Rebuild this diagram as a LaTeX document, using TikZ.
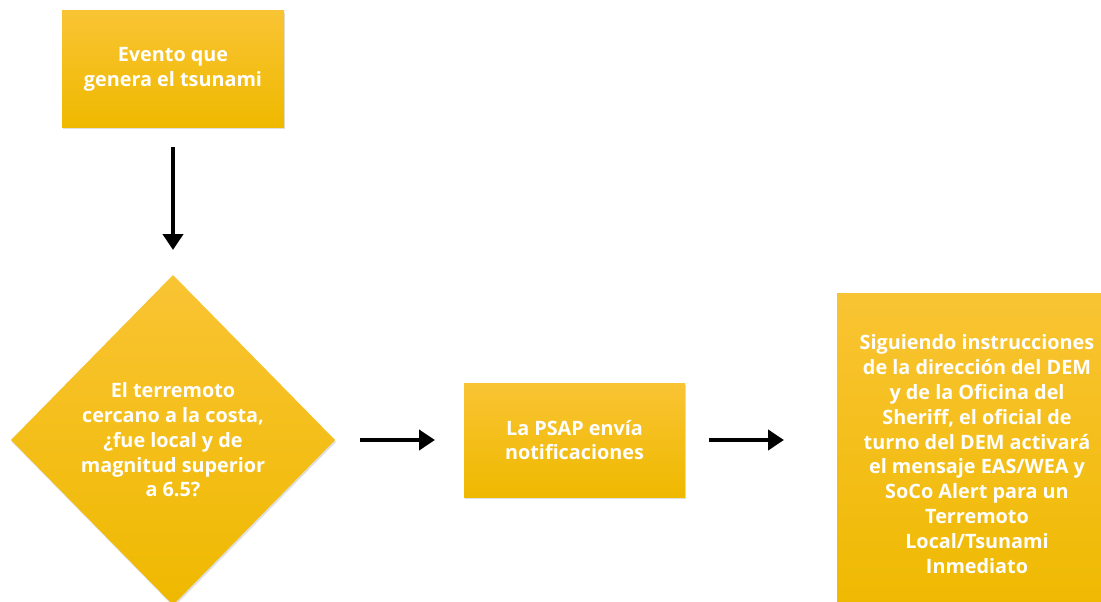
\documentclass[tikz,border=0pt]{standalone}
\usepackage{fontspec}
\setmainfont{Open Sans}
\usepackage{tikz}
\usetikzlibrary{arrows.meta, positioning, shapes.geometric, shadows}

\definecolor{boxtop}{HTML}{F9C433}
\definecolor{boxbottom}{HTML}{EFB900}

\begin{document}
\begin{tikzpicture}[
            x = 1pt, y = -1pt, % pixel coordinates
            > = {Triangle[length=16pt, width=20pt]}, % arrow head style
            line width = 4pt, % arrow line style
            node distance = 148pt, % distance between nodes
            every node/.style = {font=\fontsize{19.8}{24.8}\selectfont\bfseries, text=white, align=center}
        ]

        \tikzstyle{box}=[
            rectangle,
            line width = 0pt,
            top color = boxtop,
            bottom color = boxbottom,
            drop shadow = {opacity=0.25, shadow xshift=1pt, shadow yshift=-2pt},
            inner sep = 0pt
        ]
        \tikzstyle{decision}=[
            box,
            diamond,
            minimum width = 324pt,
            minimum height = 330pt
        ]

        \clip (0,0) rectangle (1101,602);

        \node[box, minimum width=222pt, minimum height=116pt] (evento) at (173,69) {Evento que\\genera el tsunami};
        \node[decision] (terremoto) [below=of evento] {El terremoto\\cercano a la costa,\\¿fue local y de\\magnitud superior\\a 6.5?};
        \node[box, minimum width=221pt, minimum height=114pt] (psap) [right=129pt of terremoto] {La PSAP envía\\notificaciones};
        \node[box, minimum width=280pt, minimum height=322pt] (dem) [right=152pt of psap, yshift=-14pt] {Siguiendo instrucciones\\de la dirección del DEM\\y de la Oficina del\\Sheriff, el oficial de\\turno del DEM activará\\el mensaje EAS/WEA y\\SoCo Alert para un\\Terremoto\\Local/Tsunami\\Inmediato};

        \path[->] (evento) edge[shorten <=20pt, shorten >=25pt] (terremoto);
        \path[->] (terremoto) edge[shorten <=25pt, shorten >=29pt] (psap);
        \path[->] (psap) edge[shorten <=24pt, shorten >=53pt] (psap -| dem.west);

  \end{tikzpicture}
\end{document}
